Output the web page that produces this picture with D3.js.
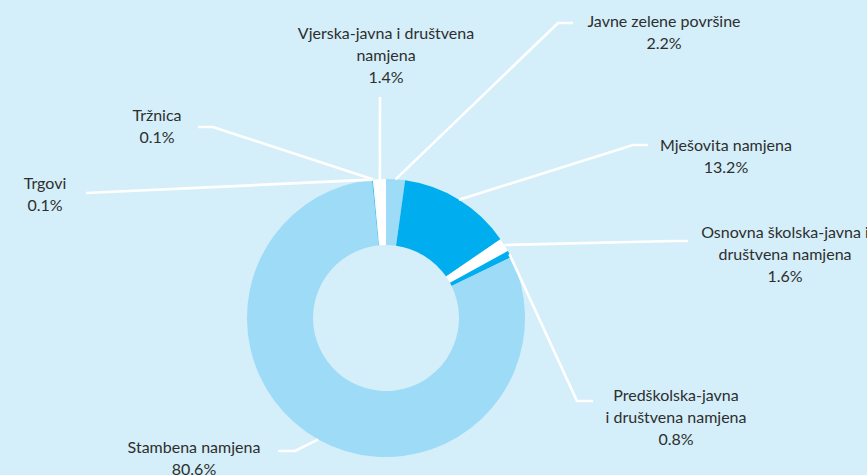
<!DOCTYPE html>
<html lang="hr">
<head>
<meta charset="UTF-8">
<title>Namjena površina</title>
<script src="https://d3js.org/d3.v7.min.js"></script>
<style>
  html, body { margin: 0; padding: 0; background: #d4eefa; }
  svg { display: block; }
  text { font-family: Lato, "Open Sans", sans-serif; font-size: 16px; fill: #2e2e2e; }
</style>
</head>
<body>
<script>
// podaci, redom u smjeru kazaljke od vrha
var categories = ["Javne zelene površine", "Mješovita namjena", "Osnovna školska-javna i društvena namjena",
    "Predškolska-javna i društvena namjena", "Stambena namjena", "Trgovi", "Tržnica",
    "Vjerska-javna i društvena namjena"];
var values = [2.2, 13.2, 1.6, 0.8, 80.6, 0.1, 0.1, 1.4];
var valueLabels = ["2.2%", "13.2%", "1.6%", "0.8%", "80.6%", "0.1%", "0.1%", "1.4%"];
// kako je tekst prelomljen u redove
var labelLines = [["Javne zelene površine"], ["Mješovita namjena"], ["Osnovna školska-javna i", "društvena namjena"],
    ["Predškolska-javna", "i društvena namjena"], ["Stambena namjena"], ["Trgovi"], ["Tržnica"],
    ["Vjerska-javna i društvena", "namjena"]];
var colors = ["#9ddbf7", "#00aeef", "#ffffff", "#00aeef", "#9ddbf7", "#27b6ee", "#ffffff", "#ffffff"];

// raspored oznaka: koljeno linije, kraj linije, sredina teksta, prvi red
var knees = [[558, 23], [633, 145], [673, 241], [577, 401], [295, 451], [86, 193], [213, 127], [380, 97]];
var lineEnds = [[573, 23], [648, 145], [688, 241], [593, 401], [278, 451], [86, 193], [198, 127], [380, 97]];
var labelX = [664, 726, 785, 676, 194, 45, 157, 386];
var labelY = [21, 145, 232, 395, 447, 183, 115, 33];

var width = 867, height = 475;
var cx = 386, cy = 318;
var outerR = 139, innerR = 73;
var lineH = 22;

var svg = d3.select("body").append("svg")
    .attr("width", width)
    .attr("height", height);

svg.append("rect").attr("width", width).attr("height", height).attr("fill", "#d4eefa");

var data = categories.map(function (c, i) { return { name: c, value: values[i], i: i }; });

var pie = d3.pie().sort(null).value(function (d) { return d.value; });
var arcs = pie(data);

var arc = d3.arc().innerRadius(innerR).outerRadius(outerR);
var edge = d3.arc().innerRadius(outerR).outerRadius(outerR);

var g = svg.append("g").attr("transform", "translate(" + cx + "," + cy + ")");

g.selectAll("path.slice")
    .data(arcs)
    .enter()
    .append("path")
    .attr("class", "slice")
    .attr("d", arc)
    .attr("fill", function (d) { return colors[d.data.i]; });

// linije do oznaka
svg.append("g").selectAll("polyline")
    .data(arcs)
    .enter()
    .append("polyline")
    .attr("points", function (d) {
        var c = edge.centroid(d);
        var k = knees[d.data.i], e = lineEnds[d.data.i];
        return [[c[0] + cx, c[1] + cy], k, e].map(function (p) { return p.join(","); }).join(" ");
    })
    .attr("fill", "none")
    .attr("stroke", "#ffffff")
    .attr("stroke-width", 2.6);

var labels = svg.append("g").selectAll("text")
    .data(arcs)
    .enter()
    .append("text")
    .attr("text-anchor", "middle")
    .attr("x", function (d) { return labelX[d.data.i]; })
    .attr("y", function (d) { return labelY[d.data.i]; });

labels.each(function (d) {
    var t = d3.select(this);
    var rows = labelLines[d.data.i].concat([valueLabels[d.data.i]]);
    rows.forEach(function (r, j) {
        t.append("tspan")
            .attr("x", labelX[d.data.i])
            .attr("y", labelY[d.data.i] + j * lineH)
            .attr("dy", "0.35em")
            .text(r);
    });
});
</script>
</body>
</html>
